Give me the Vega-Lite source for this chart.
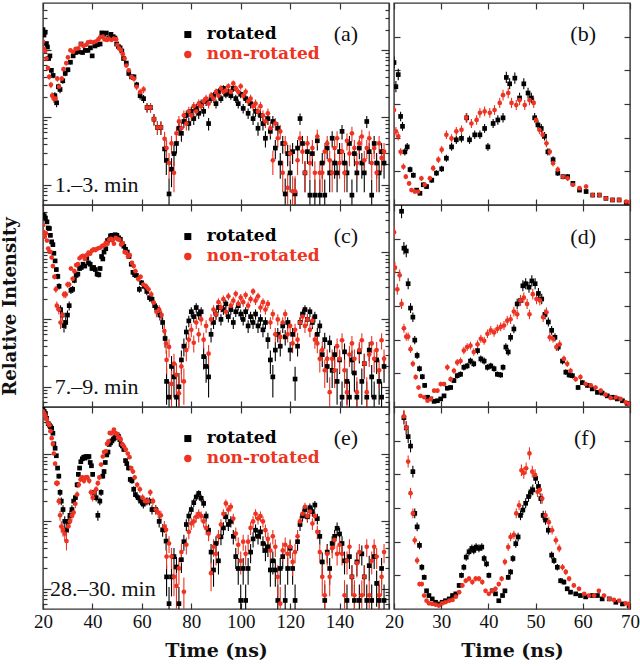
{
"$schema":"https://vega.github.io/schema/vega-lite/v6.json",
"padding":{"left":0,"top":1,"right":0,"bottom":0},
"background":"white",
"config":{
 "font":"Liberation Serif",
 "view":{"stroke":"#333","strokeWidth":1.4},
 "axis":{"domain":false,"grid":false,"tickColor":"#333","tickWidth":1.2,"labelFont":"Liberation Serif","labelFontSize":19,"labelColor":"#111","titleFont":"DejaVu Serif","titleFontWeight":"bold","titleFontSize":19,"titleColor":"#111","labelFlush":false,"labelOverlap":false}
},
"datasets":{"d":[
{"w":1,"s":"r","t":20,"v":201,"e":8.5},{"w":1,"s":"r","t":20.4,"v":167,"e":7.8},{"w":1,"s":"r","t":20.9,"v":184,"e":8.1},{"w":1,"s":"r","t":21.4,"v":125,"e":6.7},{"w":1,"s":"r","t":21.8,"v":111,"e":6.3},{"w":1,"s":"r","t":22.3,"v":75,"e":5.2},{"w":1,"s":"r","t":22.8,"v":82,"e":5.4},{"w":1,"s":"r","t":23.4,"v":50,"e":4.2},{"w":1,"s":"r","t":24.1,"v":42,"e":3.9},{"w":1,"s":"r","t":24.8,"v":21,"e":2.7},{"w":1,"s":"r","t":25.5,"v":16.5,"e":2.4},{"w":1,"s":"r","t":26.2,"v":28.5,"e":3.2},{"w":1,"s":"r","t":26.9,"v":26,"e":3.1},{"w":1,"s":"r","t":28,"v":35,"e":3.5},{"w":1,"s":"r","t":29,"v":45,"e":4},{"w":1,"s":"r","t":30.1,"v":51,"e":4.3},{"w":1,"s":"r","t":31.1,"v":66,"e":4.9},{"w":1,"s":"r","t":32.2,"v":82,"e":5.4},{"w":1,"s":"r","t":33.2,"v":92,"e":5.8},{"w":1,"s":"r","t":34.3,"v":94,"e":5.8},{"w":1,"s":"r","t":35.4,"v":123,"e":6.7},{"w":1,"s":"r","t":36,"v":92,"e":5.8},{"w":1,"s":"r","t":37.1,"v":99,"e":6},{"w":1,"s":"r","t":38.2,"v":99,"e":6},{"w":1,"s":"r","t":39.2,"v":108,"e":6.2},{"w":1,"s":"r","t":39.9,"v":82,"e":5.4},{"w":1,"s":"r","t":41,"v":115,"e":6.4},{"w":1,"s":"r","t":42,"v":120,"e":6.6},{"w":1,"s":"r","t":43.1,"v":123,"e":6.7},{"w":1,"s":"r","t":43.8,"v":180,"e":8},{"w":1,"s":"r","t":44.5,"v":171,"e":7.8},{"w":1,"s":"r","t":45.6,"v":179,"e":8},{"w":1,"s":"r","t":46.6,"v":151,"e":7.4},{"w":1,"s":"r","t":47.5,"v":171,"e":7.8},{"w":1,"s":"r","t":48.4,"v":158,"e":7.5},{"w":1,"s":"r","t":49.1,"v":151,"e":7.4},{"w":1,"s":"r","t":49.8,"v":123,"e":6.7},{"w":1,"s":"r","t":50.5,"v":113,"e":6.4},{"w":1,"s":"r","t":51.2,"v":108,"e":6.2},{"w":1,"s":"r","t":51.9,"v":97,"e":5.9},{"w":1,"s":"r","t":52.6,"v":75,"e":5.2},{"w":1,"s":"r","t":53.7,"v":64,"e":4.8},{"w":1,"s":"r","t":54.7,"v":45,"e":4},{"w":1,"s":"r","t":55.8,"v":40,"e":3.8},{"w":1,"s":"r","t":56.8,"v":40,"e":3.8},{"w":1,"s":"r","t":57.9,"v":30.5,"e":3.3},{"w":1,"s":"r","t":59.3,"v":21,"e":2.7},{"w":1,"s":"r","t":60.7,"v":19,"e":2.6},{"w":1,"s":"r","t":62.1,"v":14,"e":2.2},{"w":1,"s":"r","t":63.5,"v":14,"e":2.2},{"w":1,"s":"r","t":64.9,"v":9.4,"e":1.8},{"w":1,"s":"r","t":66.3,"v":7.1,"e":1.6},{"w":1,"s":"r","t":67.7,"v":7.1,"e":1.6},{"w":1,"s":"r","t":69.2,"v":3.4,"e":1.1},{"w":1,"s":"r","t":69.9,"v":2.3,"e":0.9},
{"w":1,"s":"r","t":71,"v":0.73,"e":0.51},{"w":1,"s":"r","t":72,"v":1.7,"e":0.78},{"w":1,"s":"r","t":73,"v":2.9,"e":1.02},{"w":1,"s":"r","t":74,"v":4.1,"e":1.21},{"w":1,"s":"r","t":75,"v":6.9,"e":1.58},{"w":1,"s":"r","t":76,"v":5.8,"e":1.44},{"w":1,"s":"r","t":77,"v":8.7,"e":1.77},{"w":1,"s":"r","t":78,"v":10.7,"e":1.96},{"w":1,"s":"r","t":79,"v":8.1,"e":1.71},{"w":1,"s":"r","t":80,"v":12.3,"e":2.1},{"w":1,"s":"r","t":81,"v":9.6,"e":1.86},{"w":1,"s":"r","t":82,"v":13.6,"e":2.21},{"w":1,"s":"r","t":83,"v":11.5,"e":2.03},{"w":1,"s":"r","t":84,"v":16,"e":2.4},{"w":1,"s":"r","t":85,"v":12.3,"e":2.1},{"w":1,"s":"r","t":86,"v":17.3,"e":2.5},{"w":1,"s":"r","t":87,"v":8.1,"e":1.71},{"w":1,"s":"r","t":88,"v":19,"e":2.62},{"w":1,"s":"r","t":89,"v":21,"e":2.75},{"w":1,"s":"r","t":90,"v":16,"e":2.4},{"w":1,"s":"r","t":91,"v":24,"e":2.94},{"w":1,"s":"r","t":92,"v":19,"e":2.62},{"w":1,"s":"r","t":93,"v":27,"e":3.12},{"w":1,"s":"r","t":94,"v":22,"e":2.81},{"w":1,"s":"r","t":95,"v":24,"e":2.94},{"w":1,"s":"r","t":96,"v":21,"e":2.75},{"w":1,"s":"r","t":97,"v":27,"e":3.12},{"w":1,"s":"r","t":98,"v":19,"e":2.62},{"w":1,"s":"r","t":99,"v":16,"e":2.4},{"w":1,"s":"r","t":100,"v":22,"e":2.81},{"w":1,"s":"r","t":101,"v":13.6,"e":2.21},{"w":1,"s":"r","t":102,"v":19,"e":2.62},{"w":1,"s":"r","t":103,"v":11.5,"e":2.03},{"w":1,"s":"r","t":104,"v":16,"e":2.4},{"w":1,"s":"r","t":105,"v":9.6,"e":1.86},{"w":1,"s":"r","t":106,"v":12.3,"e":2.1},{"w":1,"s":"r","t":107,"v":6.9,"e":1.58},{"w":1,"s":"r","t":108,"v":10.7,"e":1.96},{"w":1,"s":"r","t":109,"v":8.1,"e":1.71},{"w":1,"s":"r","t":110,"v":4.9,"e":1.33},{"w":1,"s":"r","t":111,"v":9.6,"e":1.86},{"w":1,"s":"r","t":112,"v":6.2,"e":1.49},{"w":1,"s":"r","t":113,"v":8.7,"e":1.77},{"w":1,"s":"r","t":114,"v":3.5,"e":1.12},{"w":1,"s":"r","t":115,"v":6.9,"e":1.58},{"w":1,"s":"r","t":116,"v":2.1,"e":0.87},{"w":1,"s":"r","t":117,"v":4.1,"e":1.21},{"w":1,"s":"r","t":118,"v":0.73,"e":0.51},{"w":1,"s":"r","t":119,"v":2.9,"e":1.02},{"w":1,"s":"r","t":120,"v":1.5,"e":0.73},{"w":1,"s":"r","t":121,"v":3.1,"e":1.06},{"w":1,"s":"r","t":122,"v":0.73,"e":0.51},{"w":1,"s":"r","t":123,"v":3.5,"e":1.12},{"w":1,"s":"r","t":124,"v":9.6,"e":1.86},{"w":1,"s":"r","t":125,"v":4.1,"e":1.21},{"w":1,"s":"r","t":126,"v":1.5,"e":0.73},{"w":1,"s":"r","t":127,"v":3.1,"e":1.06},{"w":1,"s":"r","t":128,"v":0.7,"e":0.5},{"w":1,"s":"r","t":129,"v":2.9,"e":1.02},{"w":1,"s":"r","t":130,"v":0.7,"e":0.5},{"w":1,"s":"r","t":131,"v":4.5,"e":1.27},{"w":1,"s":"r","t":132,"v":0.7,"e":0.5},{"w":1,"s":"r","t":133,"v":2.1,"e":0.87},{"w":1,"s":"r","t":134,"v":0.7,"e":0.5},{"w":1,"s":"r","t":135,"v":3.5,"e":1.12},{"w":1,"s":"r","t":136,"v":1.5,"e":0.73},{"w":1,"s":"r","t":137,"v":4.9,"e":1.33},{"w":1,"s":"r","t":138,"v":2.1,"e":0.87},{"w":1,"s":"r","t":139,"v":1.5,"e":0.73},{"w":1,"s":"r","t":140,"v":3.1,"e":1.06},{"w":1,"s":"r","t":141,"v":6.2,"e":1.49},{"w":1,"s":"r","t":142,"v":2.1,"e":0.87},{"w":1,"s":"r","t":143,"v":1.5,"e":0.73},{"w":1,"s":"r","t":144,"v":4.1,"e":1.21},{"w":1,"s":"r","t":145,"v":0.7,"e":0.5},{"w":1,"s":"r","t":146,"v":2.9,"e":1.02},{"w":1,"s":"r","t":147,"v":1.5,"e":0.73},{"w":1,"s":"r","t":148,"v":3.5,"e":1.12},{"w":1,"s":"r","t":149,"v":2.1,"e":0.87},{"w":1,"s":"r","t":150,"v":1.5,"e":0.73},{"w":1,"s":"r","t":151,"v":8.7,"e":1.77},{"w":1,"s":"r","t":152,"v":3.1,"e":1.06},{"w":1,"s":"r","t":153,"v":0.7,"e":0.5},{"w":1,"s":"r","t":154,"v":4.1,"e":1.21},{"w":1,"s":"r","t":155,"v":2.1,"e":0.87},{"w":1,"s":"r","t":156,"v":1.5,"e":0.73},{"w":1,"s":"r","t":157,"v":3.1,"e":1.06},{"w":1,"s":"r","t":158,"v":2.1,"e":0.87},
{"w":1,"s":"n","t":20,"v":134,"e":6.9},{"w":1,"s":"n","t":20.4,"v":104,"e":6.1},{"w":1,"s":"n","t":20.9,"v":97,"e":5.9},{"w":1,"s":"n","t":21.4,"v":75,"e":5.2},{"w":1,"s":"n","t":22,"v":54,"e":4.4},{"w":1,"s":"n","t":22.5,"v":40,"e":3.8},{"w":1,"s":"n","t":23.2,"v":30.5,"e":3.3},{"w":1,"s":"n","t":23.7,"v":21,"e":2.7},{"w":1,"s":"n","t":24.4,"v":19,"e":2.6},{"w":1,"s":"n","t":25.1,"v":19,"e":2.6},{"w":1,"s":"n","t":25.8,"v":37.6,"e":3.7},{"w":1,"s":"n","t":26.5,"v":28.5,"e":3.2},{"w":1,"s":"n","t":27.6,"v":37.6,"e":3.7},{"w":1,"s":"n","t":28.3,"v":52,"e":4.3},{"w":1,"s":"n","t":29.4,"v":64,"e":4.8},{"w":1,"s":"n","t":30.1,"v":78,"e":5.3},{"w":1,"s":"n","t":31.1,"v":99,"e":6},{"w":1,"s":"n","t":32.2,"v":94,"e":5.8},{"w":1,"s":"n","t":33.2,"v":104,"e":6.1},{"w":1,"s":"n","t":34.3,"v":106,"e":6.2},{"w":1,"s":"n","t":35.3,"v":123,"e":6.7},{"w":1,"s":"n","t":36.4,"v":115,"e":6.4},{"w":1,"s":"n","t":37.5,"v":120,"e":6.6},{"w":1,"s":"n","t":38.2,"v":130,"e":6.8},{"w":1,"s":"n","t":39.2,"v":132,"e":6.9},{"w":1,"s":"n","t":40.3,"v":130,"e":6.8},{"w":1,"s":"n","t":41.3,"v":134,"e":6.9},{"w":1,"s":"n","t":42.4,"v":144,"e":7.2},{"w":1,"s":"n","t":43.1,"v":155,"e":7.5},{"w":1,"s":"n","t":44.2,"v":158,"e":7.5},{"w":1,"s":"n","t":44.9,"v":144,"e":7.2},{"w":1,"s":"n","t":45.9,"v":141,"e":7.1},{"w":1,"s":"n","t":46.6,"v":148,"e":7.3},{"w":1,"s":"n","t":47.7,"v":141,"e":7.1},{"w":1,"s":"n","t":48.7,"v":148,"e":7.3},{"w":1,"s":"n","t":49.6,"v":144,"e":7.2},{"w":1,"s":"n","t":50.1,"v":120,"e":6.6},{"w":1,"s":"n","t":50.8,"v":106,"e":6.2},{"w":1,"s":"n","t":51.5,"v":99,"e":6},{"w":1,"s":"n","t":52.3,"v":87,"e":5.6},{"w":1,"s":"n","t":53,"v":75,"e":5.2},{"w":1,"s":"n","t":53.7,"v":59,"e":4.6},{"w":1,"s":"n","t":54.7,"v":50,"e":4.2},{"w":1,"s":"n","t":55.8,"v":40,"e":3.8},{"w":1,"s":"n","t":56.8,"v":37.6,"e":3.7},{"w":1,"s":"n","t":57.9,"v":28.5,"e":3.2},{"w":1,"s":"n","t":59.3,"v":23.7,"e":2.9},{"w":1,"s":"n","t":60.7,"v":26,"e":3.1},{"w":1,"s":"n","t":62.1,"v":14,"e":2.2},{"w":1,"s":"n","t":63.5,"v":14,"e":2.2},{"w":1,"s":"n","t":64.9,"v":9.4,"e":1.8},{"w":1,"s":"n","t":66.3,"v":7.1,"e":1.6},{"w":1,"s":"n","t":67.7,"v":7.1,"e":1.6},{"w":1,"s":"n","t":69.2,"v":4.8,"e":1.3},
{"w":1,"s":"n","t":70,"v":3.5,"e":1.12},{"w":1,"s":"n","t":71,"v":2.1,"e":0.87},{"w":1,"s":"n","t":72,"v":4.1,"e":1.21},{"w":1,"s":"n","t":73,"v":1.5,"e":0.73},{"w":1,"s":"n","t":74,"v":5.8,"e":1.44},{"w":1,"s":"n","t":75,"v":8.7,"e":1.77},{"w":1,"s":"n","t":76,"v":6.9,"e":1.58},{"w":1,"s":"n","t":77,"v":10.7,"e":1.96},{"w":1,"s":"n","t":78,"v":8.1,"e":1.71},{"w":1,"s":"n","t":79,"v":12.3,"e":2.1},{"w":1,"s":"n","t":80,"v":10.7,"e":1.96},{"w":1,"s":"n","t":81,"v":14.7,"e":2.3},{"w":1,"s":"n","t":82,"v":12.3,"e":2.1},{"w":1,"s":"n","t":83,"v":16,"e":2.4},{"w":1,"s":"n","t":84,"v":14.7,"e":2.3},{"w":1,"s":"n","t":85,"v":17.3,"e":2.5},{"w":1,"s":"n","t":86,"v":19,"e":2.62},{"w":1,"s":"n","t":87,"v":16,"e":2.4},{"w":1,"s":"n","t":88,"v":21,"e":2.75},{"w":1,"s":"n","t":89,"v":19,"e":2.62},{"w":1,"s":"n","t":90,"v":24,"e":2.94},{"w":1,"s":"n","t":91,"v":21,"e":2.75},{"w":1,"s":"n","t":92,"v":27,"e":3.12},{"w":1,"s":"n","t":93,"v":24,"e":2.94},{"w":1,"s":"n","t":94,"v":25,"e":3},{"w":1,"s":"n","t":95,"v":29,"e":3.23},{"w":1,"s":"n","t":96,"v":24,"e":2.94},{"w":1,"s":"n","t":97,"v":32,"e":3.39},{"w":1,"s":"n","t":98,"v":27,"e":3.12},{"w":1,"s":"n","t":99,"v":24,"e":2.94},{"w":1,"s":"n","t":100,"v":29,"e":3.23},{"w":1,"s":"n","t":101,"v":21,"e":2.75},{"w":1,"s":"n","t":102,"v":24,"e":2.94},{"w":1,"s":"n","t":103,"v":17.3,"e":2.5},{"w":1,"s":"n","t":104,"v":19,"e":2.62},{"w":1,"s":"n","t":105,"v":14.7,"e":2.3},{"w":1,"s":"n","t":106,"v":16,"e":2.4},{"w":1,"s":"n","t":107,"v":12.3,"e":2.1},{"w":1,"s":"n","t":108,"v":14.7,"e":2.3},{"w":1,"s":"n","t":109,"v":10.7,"e":1.96},{"w":1,"s":"n","t":110,"v":8.7,"e":1.77},{"w":1,"s":"n","t":111,"v":11.5,"e":2.03},{"w":1,"s":"n","t":112,"v":6.9,"e":1.58},{"w":1,"s":"n","t":113,"v":2.3,"e":0.91},{"w":1,"s":"n","t":114,"v":8.1,"e":1.71},{"w":1,"s":"n","t":115,"v":4.9,"e":1.33},{"w":1,"s":"n","t":116,"v":6.2,"e":1.49},{"w":1,"s":"n","t":117,"v":1.5,"e":0.73},{"w":1,"s":"n","t":118,"v":4.1,"e":1.21},{"w":1,"s":"n","t":119,"v":0.9,"e":0.57},{"w":1,"s":"n","t":120,"v":2.9,"e":1.02},{"w":1,"s":"n","t":121,"v":0.8,"e":0.54},{"w":1,"s":"n","t":122,"v":0.8,"e":0.54},{"w":1,"s":"n","t":123,"v":2.3,"e":0.91},{"w":1,"s":"n","t":124,"v":4.9,"e":1.33},{"w":1,"s":"n","t":125,"v":3.1,"e":1.06},{"w":1,"s":"n","t":126,"v":1.5,"e":0.73},{"w":1,"s":"n","t":127,"v":4.1,"e":1.21},{"w":1,"s":"n","t":128,"v":2.1,"e":0.87},{"w":1,"s":"n","t":129,"v":3.5,"e":1.12},{"w":1,"s":"n","t":130,"v":1.5,"e":0.73},{"w":1,"s":"n","t":131,"v":5.2,"e":1.37},{"w":1,"s":"n","t":132,"v":1.5,"e":0.73},{"w":1,"s":"n","t":133,"v":1.5,"e":0.73},{"w":1,"s":"n","t":134,"v":3.1,"e":1.06},{"w":1,"s":"n","t":135,"v":4.1,"e":1.21},{"w":1,"s":"n","t":136,"v":2.3,"e":0.91},{"w":1,"s":"n","t":137,"v":1.5,"e":0.73},{"w":1,"s":"n","t":138,"v":3.5,"e":1.12},{"w":1,"s":"n","t":139,"v":4.9,"e":1.33},{"w":1,"s":"n","t":140,"v":2.1,"e":0.87},{"w":1,"s":"n","t":141,"v":3.1,"e":1.06},{"w":1,"s":"n","t":142,"v":1.5,"e":0.73},{"w":1,"s":"n","t":143,"v":4.5,"e":1.27},{"w":1,"s":"n","t":144,"v":2.9,"e":1.02},{"w":1,"s":"n","t":145,"v":5.8,"e":1.44},{"w":1,"s":"n","t":146,"v":3.5,"e":1.12},{"w":1,"s":"n","t":147,"v":2.1,"e":0.87},{"w":1,"s":"n","t":148,"v":4.1,"e":1.21},{"w":1,"s":"n","t":149,"v":5.2,"e":1.37},{"w":1,"s":"n","t":150,"v":2.3,"e":0.91},{"w":1,"s":"n","t":151,"v":3.5,"e":1.12},{"w":1,"s":"n","t":152,"v":4.9,"e":1.33},{"w":1,"s":"n","t":153,"v":2.1,"e":0.87},{"w":1,"s":"n","t":154,"v":3.5,"e":1.12},{"w":1,"s":"n","t":155,"v":1.5,"e":0.73},{"w":1,"s":"n","t":156,"v":4.1,"e":1.21},{"w":1,"s":"n","t":157,"v":2.5,"e":0.95},{"w":1,"s":"n","t":158,"v":3.1,"e":1.06},
{"w":2,"s":"r","t":20,"v":360,"e":11.4},{"w":2,"s":"r","t":20.5,"v":345,"e":11.1},{"w":2,"s":"r","t":21,"v":320,"e":10.7},{"w":2,"s":"r","t":21.6,"v":281,"e":10},{"w":2,"s":"r","t":22.1,"v":228,"e":9},{"w":2,"s":"r","t":22.6,"v":224,"e":9},{"w":2,"s":"r","t":23,"v":177,"e":8},{"w":2,"s":"r","t":23.5,"v":142,"e":7.1},{"w":2,"s":"r","t":24,"v":129,"e":6.8},{"w":2,"s":"r","t":24.4,"v":96,"e":5.9},{"w":2,"s":"r","t":24.9,"v":74,"e":5.2},{"w":2,"s":"r","t":25.4,"v":55,"e":4.4},{"w":2,"s":"r","t":26,"v":43.5,"e":4},{"w":2,"s":"r","t":26.5,"v":31,"e":3.3},{"w":2,"s":"r","t":27.1,"v":14,"e":2.2},{"w":2,"s":"r","t":27.8,"v":11.6,"e":2},{"w":2,"s":"r","t":28.5,"v":8.1,"e":1.7},{"w":2,"s":"r","t":29.2,"v":9,"e":1.8},{"w":2,"s":"r","t":29.9,"v":11.6,"e":2},{"w":2,"s":"r","t":30.6,"v":16,"e":2.4},{"w":2,"s":"r","t":31.3,"v":27,"e":3.1},{"w":2,"s":"r","t":32,"v":28,"e":3.2},{"w":2,"s":"r","t":32.7,"v":38,"e":3.7},{"w":2,"s":"r","t":33.4,"v":45,"e":4},{"w":2,"s":"r","t":34.1,"v":47,"e":4.1},{"w":2,"s":"r","t":34.8,"v":57,"e":4.5},{"w":2,"s":"r","t":35.5,"v":59,"e":4.6},{"w":2,"s":"r","t":36.2,"v":66,"e":4.9},{"w":2,"s":"r","t":36.9,"v":62,"e":4.7},{"w":2,"s":"r","t":37.7,"v":81,"e":5.4},{"w":2,"s":"r","t":38.4,"v":69,"e":5},{"w":2,"s":"r","t":39.1,"v":66,"e":4.9},{"w":2,"s":"r","t":39.8,"v":57,"e":4.5},{"w":2,"s":"r","t":40.5,"v":59,"e":4.6},{"w":2,"s":"r","t":41.2,"v":55,"e":4.4},{"w":2,"s":"r","t":41.9,"v":47,"e":4.1},{"w":2,"s":"r","t":42.6,"v":46,"e":4.1},{"w":2,"s":"r","t":43.1,"v":57,"e":4.5},{"w":2,"s":"r","t":43.7,"v":86,"e":5.6},{"w":2,"s":"r","t":44.2,"v":79,"e":5.3},{"w":2,"s":"r","t":44.7,"v":100,"e":6},{"w":2,"s":"r","t":45.4,"v":112,"e":6.3},{"w":2,"s":"r","t":46.1,"v":148,"e":7.3},{"w":2,"s":"r","t":46.8,"v":153,"e":7.4},{"w":2,"s":"r","t":47.3,"v":174,"e":7.9},{"w":2,"s":"r","t":47.9,"v":177,"e":8},{"w":2,"s":"r","t":48.6,"v":172,"e":7.9},{"w":2,"s":"r","t":49.2,"v":181,"e":8.1},{"w":2,"s":"r","t":49.9,"v":177,"e":8},{"w":2,"s":"r","t":50.6,"v":163,"e":7.7},{"w":2,"s":"r","t":51.3,"v":155,"e":7.5},{"w":2,"s":"r","t":52,"v":133,"e":6.9},{"w":2,"s":"r","t":52.7,"v":122,"e":6.6},{"w":2,"s":"r","t":53.4,"v":110,"e":6.3},{"w":2,"s":"r","t":54.1,"v":100,"e":6},{"w":2,"s":"r","t":54.8,"v":86,"e":5.6},{"w":2,"s":"r","t":55.7,"v":66,"e":4.9},{"w":2,"s":"r","t":56.4,"v":50,"e":4.2},{"w":2,"s":"r","t":57.1,"v":46,"e":4.1},{"w":2,"s":"r","t":57.8,"v":45,"e":4},{"w":2,"s":"r","t":59,"v":28,"e":3.2},{"w":2,"s":"r","t":59.9,"v":35,"e":3.5},{"w":2,"s":"r","t":61,"v":31,"e":3.3},{"w":2,"s":"r","t":62,"v":26,"e":3.1},{"w":2,"s":"r","t":63.1,"v":21,"e":2.7},{"w":2,"s":"r","t":64.1,"v":20,"e":2.7},{"w":2,"s":"r","t":65.2,"v":16,"e":2.4},{"w":2,"s":"r","t":66.3,"v":14,"e":2.2},{"w":2,"s":"r","t":67.3,"v":11.6,"e":2},{"w":2,"s":"r","t":68.4,"v":9,"e":1.8},{"w":2,"s":"r","t":69.4,"v":5.2,"e":1.4},
{"w":2,"s":"r","t":70,"v":1.2,"e":0.66},{"w":2,"s":"r","t":71,"v":0.7,"e":0.5},{"w":2,"s":"r","t":72,"v":2,"e":0.85},{"w":2,"s":"r","t":73,"v":1.4,"e":0.71},{"w":2,"s":"r","t":74,"v":0.7,"e":0.5},{"w":2,"s":"r","t":75,"v":1,"e":0.6},{"w":2,"s":"r","t":76,"v":2.5,"e":0.95},{"w":2,"s":"r","t":77,"v":4,"e":1.2},{"w":2,"s":"r","t":78,"v":6.5,"e":1.53},{"w":2,"s":"r","t":79,"v":9.5,"e":1.85},{"w":2,"s":"r","t":80,"v":13,"e":2.16},{"w":2,"s":"r","t":81,"v":11,"e":1.99},{"w":2,"s":"r","t":82,"v":15,"e":2.32},{"w":2,"s":"r","t":83,"v":12,"e":2.08},{"w":2,"s":"r","t":84,"v":13,"e":2.16},{"w":2,"s":"r","t":85,"v":2.8,"e":1},{"w":2,"s":"r","t":86,"v":2,"e":0.85},{"w":2,"s":"r","t":87,"v":1.4,"e":0.71},{"w":2,"s":"r","t":88,"v":6,"e":1.47},{"w":2,"s":"r","t":89,"v":9,"e":1.8},{"w":2,"s":"r","t":90,"v":12,"e":2.08},{"w":2,"s":"r","t":91,"v":15,"e":2.32},{"w":2,"s":"r","t":92,"v":10,"e":1.9},{"w":2,"s":"r","t":93,"v":14,"e":2.24},{"w":2,"s":"r","t":94,"v":17,"e":2.47},{"w":2,"s":"r","t":95,"v":11,"e":1.99},{"w":2,"s":"r","t":96,"v":14,"e":2.24},{"w":2,"s":"r","t":97,"v":9,"e":1.8},{"w":2,"s":"r","t":98,"v":13,"e":2.16},{"w":2,"s":"r","t":99,"v":16,"e":2.4},{"w":2,"s":"r","t":100,"v":12,"e":2.08},{"w":2,"s":"r","t":101,"v":10,"e":1.9},{"w":2,"s":"r","t":102,"v":13,"e":2.16},{"w":2,"s":"r","t":103,"v":8,"e":1.7},{"w":2,"s":"r","t":104,"v":11,"e":1.99},{"w":2,"s":"r","t":105,"v":9,"e":1.8},{"w":2,"s":"r","t":106,"v":12,"e":2.08},{"w":2,"s":"r","t":107,"v":8,"e":1.7},{"w":2,"s":"r","t":108,"v":10,"e":1.9},{"w":2,"s":"r","t":109,"v":7,"e":1.59},{"w":2,"s":"r","t":110,"v":9,"e":1.8},{"w":2,"s":"r","t":111,"v":5,"e":1.34},{"w":2,"s":"r","t":112,"v":2.5,"e":0.95},{"w":2,"s":"r","t":113,"v":1.4,"e":0.71},{"w":2,"s":"r","t":114,"v":3.5,"e":1.12},{"w":2,"s":"r","t":115,"v":6,"e":1.47},{"w":2,"s":"r","t":116,"v":4,"e":1.2},{"w":2,"s":"r","t":117,"v":8,"e":1.7},{"w":2,"s":"r","t":118,"v":5.5,"e":1.41},{"w":2,"s":"r","t":119,"v":9,"e":1.8},{"w":2,"s":"r","t":120,"v":3.5,"e":1.12},{"w":2,"s":"r","t":121,"v":6,"e":1.47},{"w":2,"s":"r","t":122,"v":1.3,"e":0.68},{"w":2,"s":"r","t":123,"v":4,"e":1.2},{"w":2,"s":"r","t":124,"v":9,"e":1.8},{"w":2,"s":"r","t":125,"v":12,"e":2.08},{"w":2,"s":"r","t":126,"v":14,"e":2.24},{"w":2,"s":"r","t":127,"v":10,"e":1.9},{"w":2,"s":"r","t":128,"v":13,"e":2.16},{"w":2,"s":"r","t":129,"v":9,"e":1.8},{"w":2,"s":"r","t":130,"v":11,"e":1.99},{"w":2,"s":"r","t":131,"v":6,"e":1.47},{"w":2,"s":"r","t":132,"v":8,"e":1.7},{"w":2,"s":"r","t":133,"v":3,"e":1.04},{"w":2,"s":"r","t":134,"v":5,"e":1.34},{"w":2,"s":"r","t":135,"v":2,"e":0.85},{"w":2,"s":"r","t":136,"v":4.5,"e":1.27},{"w":2,"s":"r","t":137,"v":1.75,"e":0.79},{"w":2,"s":"r","t":138,"v":3,"e":1.04},{"w":2,"s":"r","t":139,"v":1.2,"e":0.66},{"w":2,"s":"r","t":140,"v":2.5,"e":0.95},{"w":2,"s":"r","t":141,"v":0.7,"e":0.5},{"w":2,"s":"r","t":142,"v":3.3,"e":1.09},{"w":2,"s":"r","t":143,"v":1.2,"e":0.66},{"w":2,"s":"r","t":144,"v":0.7,"e":0.5},{"w":2,"s":"r","t":145,"v":2.5,"e":0.95},{"w":2,"s":"r","t":146,"v":1.6,"e":0.76},{"w":2,"s":"r","t":147,"v":0.7,"e":0.5},{"w":2,"s":"r","t":148,"v":3.3,"e":1.09},{"w":2,"s":"r","t":149,"v":1.2,"e":0.66},{"w":2,"s":"r","t":150,"v":2.2,"e":0.89},{"w":2,"s":"r","t":151,"v":0.7,"e":0.5},{"w":2,"s":"r","t":152,"v":3.5,"e":1.12},{"w":2,"s":"r","t":153,"v":1.4,"e":0.71},{"w":2,"s":"r","t":154,"v":0.7,"e":0.5},{"w":2,"s":"r","t":155,"v":2.5,"e":0.95},{"w":2,"s":"r","t":156,"v":1.2,"e":0.66},{"w":2,"s":"r","t":157,"v":0.7,"e":0.5},{"w":2,"s":"r","t":158,"v":2,"e":0.85},
{"w":2,"s":"n","t":20,"v":251,"e":9.5},{"w":2,"s":"n","t":20.2,"v":200,"e":8.5},{"w":2,"s":"n","t":20.7,"v":169,"e":7.8},{"w":2,"s":"n","t":21.2,"v":189,"e":8.3},{"w":2,"s":"n","t":21.6,"v":148,"e":7.3},{"w":2,"s":"n","t":22.1,"v":113,"e":6.4},{"w":2,"s":"n","t":22.6,"v":101,"e":6},{"w":2,"s":"n","t":23,"v":101,"e":6},{"w":2,"s":"n","t":23.5,"v":83,"e":5.5},{"w":2,"s":"n","t":24,"v":62,"e":4.7},{"w":2,"s":"n","t":24.6,"v":43,"e":3.9},{"w":2,"s":"n","t":25.2,"v":28,"e":3.2},{"w":2,"s":"n","t":25.6,"v":16,"e":2.4},{"w":2,"s":"n","t":26.4,"v":14,"e":2.2},{"w":2,"s":"n","t":27.1,"v":9,"e":1.8},{"w":2,"s":"n","t":27.8,"v":11.6,"e":2},{"w":2,"s":"n","t":28.5,"v":23.5,"e":2.9},{"w":2,"s":"n","t":29.2,"v":23.5,"e":2.9},{"w":2,"s":"n","t":29.9,"v":33,"e":3.4},{"w":2,"s":"n","t":30.6,"v":33,"e":3.4},{"w":2,"s":"n","t":31.3,"v":57,"e":4.5},{"w":2,"s":"n","t":32,"v":40,"e":3.8},{"w":2,"s":"n","t":32.7,"v":52,"e":4.3},{"w":2,"s":"n","t":33.4,"v":64,"e":4.8},{"w":2,"s":"n","t":34.1,"v":66,"e":4.9},{"w":2,"s":"n","t":34.8,"v":81,"e":5.4},{"w":2,"s":"n","t":35.5,"v":86,"e":5.6},{"w":2,"s":"n","t":36.2,"v":88,"e":5.6},{"w":2,"s":"n","t":36.9,"v":79,"e":5.3},{"w":2,"s":"n","t":37.7,"v":90,"e":5.7},{"w":2,"s":"n","t":38.4,"v":98,"e":5.9},{"w":2,"s":"n","t":39.1,"v":95,"e":5.8},{"w":2,"s":"n","t":39.8,"v":105,"e":6.1},{"w":2,"s":"n","t":40.5,"v":110,"e":6.3},{"w":2,"s":"n","t":41.2,"v":107,"e":6.2},{"w":2,"s":"n","t":41.9,"v":112,"e":6.3},{"w":2,"s":"n","t":42.6,"v":115,"e":6.4},{"w":2,"s":"n","t":43.3,"v":117,"e":6.5},{"w":2,"s":"n","t":44,"v":124,"e":6.7},{"w":2,"s":"n","t":44.7,"v":126,"e":6.7},{"w":2,"s":"n","t":45.4,"v":137,"e":7},{"w":2,"s":"n","t":46.1,"v":133,"e":6.9},{"w":2,"s":"n","t":46.8,"v":153,"e":7.4},{"w":2,"s":"n","t":47.5,"v":157,"e":7.5},{"w":2,"s":"n","t":48.2,"v":148,"e":7.3},{"w":2,"s":"n","t":48.7,"v":133,"e":6.9},{"w":2,"s":"n","t":49.4,"v":162,"e":7.6},{"w":2,"s":"n","t":50.2,"v":155,"e":7.5},{"w":2,"s":"n","t":50.9,"v":153,"e":7.4},{"w":2,"s":"n","t":51.6,"v":129,"e":6.8},{"w":2,"s":"n","t":52.3,"v":136,"e":7},{"w":2,"s":"n","t":53,"v":100,"e":6},{"w":2,"s":"n","t":53.7,"v":98,"e":5.9},{"w":2,"s":"n","t":54.4,"v":86,"e":5.6},{"w":2,"s":"n","t":55.1,"v":90,"e":5.7},{"w":2,"s":"n","t":56,"v":69,"e":5},{"w":2,"s":"n","t":56.7,"v":62,"e":4.7},{"w":2,"s":"n","t":57.4,"v":52,"e":4.3},{"w":2,"s":"n","t":58.5,"v":40,"e":3.8},{"w":2,"s":"n","t":59.5,"v":43,"e":3.9},{"w":2,"s":"n","t":60.6,"v":33,"e":3.4},{"w":2,"s":"n","t":61.7,"v":31,"e":3.3},{"w":2,"s":"n","t":62.7,"v":28,"e":3.2},{"w":2,"s":"n","t":63.8,"v":23.5,"e":2.9},{"w":2,"s":"n","t":64.8,"v":17.7,"e":2.5},{"w":2,"s":"n","t":65.9,"v":13,"e":2.2},{"w":2,"s":"n","t":67,"v":14,"e":2.2},{"w":2,"s":"n","t":68,"v":11.6,"e":2},{"w":2,"s":"n","t":69.1,"v":6.7,"e":1.6},{"w":2,"s":"n","t":69.8,"v":4.4,"e":1.3},
{"w":2,"s":"n","t":70,"v":2.5,"e":0.95},{"w":2,"s":"n","t":71,"v":3.9,"e":1.18},{"w":2,"s":"n","t":72,"v":1.1,"e":0.63},{"w":2,"s":"n","t":73,"v":2.2,"e":0.89},{"w":2,"s":"n","t":74,"v":1.5,"e":0.73},{"w":2,"s":"n","t":75,"v":0.8,"e":0.54},{"w":2,"s":"n","t":76,"v":2,"e":0.85},{"w":2,"s":"n","t":77,"v":1.2,"e":0.66},{"w":2,"s":"n","t":78,"v":3.5,"e":1.12},{"w":2,"s":"n","t":79,"v":5,"e":1.34},{"w":2,"s":"n","t":80,"v":7,"e":1.59},{"w":2,"s":"n","t":81,"v":4.5,"e":1.27},{"w":2,"s":"n","t":82,"v":9,"e":1.8},{"w":2,"s":"n","t":83,"v":6,"e":1.47},{"w":2,"s":"n","t":84,"v":10,"e":1.9},{"w":2,"s":"n","t":85,"v":5,"e":1.34},{"w":2,"s":"n","t":86,"v":8,"e":1.7},{"w":2,"s":"n","t":87,"v":3.1,"e":1.06},{"w":2,"s":"n","t":88,"v":10,"e":1.9},{"w":2,"s":"n","t":89,"v":14,"e":2.24},{"w":2,"s":"n","t":90,"v":12,"e":2.08},{"w":2,"s":"n","t":91,"v":18,"e":2.55},{"w":2,"s":"n","t":92,"v":15,"e":2.32},{"w":2,"s":"n","t":93,"v":20,"e":2.68},{"w":2,"s":"n","t":94,"v":13,"e":2.16},{"w":2,"s":"n","t":95,"v":22,"e":2.81},{"w":2,"s":"n","t":96,"v":16,"e":2.4},{"w":2,"s":"n","t":97,"v":19,"e":2.62},{"w":2,"s":"n","t":98,"v":24,"e":2.94},{"w":2,"s":"n","t":99,"v":17,"e":2.47},{"w":2,"s":"n","t":100,"v":21,"e":2.75},{"w":2,"s":"n","t":101,"v":18,"e":2.55},{"w":2,"s":"n","t":102,"v":23,"e":2.88},{"w":2,"s":"n","t":103,"v":16,"e":2.4},{"w":2,"s":"n","t":104,"v":20,"e":2.68},{"w":2,"s":"n","t":105,"v":26,"e":3.06},{"w":2,"s":"n","t":106,"v":19,"e":2.62},{"w":2,"s":"n","t":107,"v":22,"e":2.81},{"w":2,"s":"n","t":108,"v":15,"e":2.32},{"w":2,"s":"n","t":109,"v":18,"e":2.55},{"w":2,"s":"n","t":110,"v":14,"e":2.24},{"w":2,"s":"n","t":111,"v":17,"e":2.47},{"w":2,"s":"n","t":112,"v":9,"e":1.8},{"w":2,"s":"n","t":113,"v":12,"e":2.08},{"w":2,"s":"n","t":114,"v":6,"e":1.47},{"w":2,"s":"n","t":115,"v":10,"e":1.9},{"w":2,"s":"n","t":116,"v":5.5,"e":1.41},{"w":2,"s":"n","t":117,"v":9,"e":1.8},{"w":2,"s":"n","t":118,"v":12,"e":2.08},{"w":2,"s":"n","t":119,"v":6,"e":1.47},{"w":2,"s":"n","t":120,"v":8,"e":1.7},{"w":2,"s":"n","t":121,"v":4.4,"e":1.26},{"w":2,"s":"n","t":122,"v":7,"e":1.59},{"w":2,"s":"n","t":123,"v":5,"e":1.34},{"w":2,"s":"n","t":124,"v":9,"e":1.8},{"w":2,"s":"n","t":125,"v":11,"e":1.99},{"w":2,"s":"n","t":126,"v":8,"e":1.7},{"w":2,"s":"n","t":127,"v":10,"e":1.9},{"w":2,"s":"n","t":128,"v":7,"e":1.59},{"w":2,"s":"n","t":129,"v":9.5,"e":1.85},{"w":2,"s":"n","t":130,"v":5,"e":1.34},{"w":2,"s":"n","t":131,"v":4.4,"e":1.26},{"w":2,"s":"n","t":132,"v":2.6,"e":0.97},{"w":2,"s":"n","t":133,"v":3.5,"e":1.12},{"w":2,"s":"n","t":134,"v":1.75,"e":0.79},{"w":2,"s":"n","t":135,"v":2.6,"e":0.97},{"w":2,"s":"n","t":136,"v":0.83,"e":0.55},{"w":2,"s":"n","t":137,"v":2.6,"e":0.97},{"w":2,"s":"n","t":138,"v":1.75,"e":0.79},{"w":2,"s":"n","t":139,"v":4,"e":1.2},{"w":2,"s":"n","t":140,"v":2.6,"e":0.97},{"w":2,"s":"n","t":141,"v":4.9,"e":1.33},{"w":2,"s":"n","t":142,"v":1.75,"e":0.79},{"w":2,"s":"n","t":143,"v":0.83,"e":0.55},{"w":2,"s":"n","t":144,"v":3,"e":1.04},{"w":2,"s":"n","t":145,"v":4.4,"e":1.26},{"w":2,"s":"n","t":146,"v":2.6,"e":0.97},{"w":2,"s":"n","t":147,"v":0.83,"e":0.55},{"w":2,"s":"n","t":148,"v":3.5,"e":1.12},{"w":2,"s":"n","t":149,"v":4.9,"e":1.33},{"w":2,"s":"n","t":150,"v":2.2,"e":0.89},{"w":2,"s":"n","t":151,"v":0.83,"e":0.55},{"w":2,"s":"n","t":152,"v":3,"e":1.04},{"w":2,"s":"n","t":153,"v":4.4,"e":1.26},{"w":2,"s":"n","t":154,"v":2.6,"e":0.97},{"w":2,"s":"n","t":155,"v":3.5,"e":1.12},{"w":2,"s":"n","t":156,"v":1.75,"e":0.79},{"w":2,"s":"n","t":157,"v":4.9,"e":1.33},{"w":2,"s":"n","t":158,"v":2.6,"e":0.97},
{"w":3,"s":"r","t":20,"v":460,"e":12.9},{"w":3,"s":"r","t":20.5,"v":430,"e":12.4},{"w":3,"s":"r","t":21,"v":400,"e":12},{"w":3,"s":"r","t":21.5,"v":340,"e":11},{"w":3,"s":"r","t":22.1,"v":284,"e":10.1},{"w":3,"s":"r","t":22.6,"v":269,"e":9.8},{"w":3,"s":"r","t":23,"v":256,"e":9.6},{"w":3,"s":"r","t":23.5,"v":242,"e":9.3},{"w":3,"s":"r","t":24,"v":204,"e":8.6},{"w":3,"s":"r","t":24.4,"v":142,"e":7.1},{"w":3,"s":"r","t":24.9,"v":122,"e":6.6},{"w":3,"s":"r","t":25.4,"v":94.5,"e":5.8},{"w":3,"s":"r","t":25.9,"v":62,"e":4.7},{"w":3,"s":"r","t":26.4,"v":47,"e":4.1},{"w":3,"s":"r","t":26.9,"v":27,"e":3.1},{"w":3,"s":"r","t":27.4,"v":20,"e":2.7},{"w":3,"s":"r","t":28.1,"v":15,"e":2.3},{"w":3,"s":"r","t":28.8,"v":10,"e":1.9},{"w":3,"s":"r","t":29.5,"v":7.5,"e":1.6},{"w":3,"s":"r","t":30.2,"v":10,"e":1.9},{"w":3,"s":"r","t":30.9,"v":12.3,"e":2.1},{"w":3,"s":"r","t":31.7,"v":15,"e":2.3},{"w":3,"s":"r","t":32.4,"v":20,"e":2.7},{"w":3,"s":"r","t":33.1,"v":22.5,"e":2.8},{"w":3,"s":"r","t":33.8,"v":35,"e":3.5},{"w":3,"s":"r","t":34.3,"v":50,"e":4.2},{"w":3,"s":"r","t":34.8,"v":62,"e":4.7},{"w":3,"s":"r","t":35.3,"v":77,"e":5.3},{"w":3,"s":"r","t":35.9,"v":85,"e":5.5},{"w":3,"s":"r","t":36.5,"v":90,"e":5.7},{"w":3,"s":"r","t":36.9,"v":87,"e":5.6},{"w":3,"s":"r","t":37.4,"v":92,"e":5.8},{"w":3,"s":"r","t":38,"v":90,"e":5.7},{"w":3,"s":"r","t":38.6,"v":92,"e":5.8},{"w":3,"s":"r","t":39.1,"v":75,"e":5.2},{"w":3,"s":"r","t":39.6,"v":67,"e":4.9},{"w":3,"s":"r","t":40.1,"v":50,"e":4.2},{"w":3,"s":"r","t":40.8,"v":27,"e":3.1},{"w":3,"s":"r","t":41.5,"v":22.5,"e":2.8},{"w":3,"s":"r","t":42.2,"v":12.3,"e":2.1},{"w":3,"s":"r","t":43,"v":20,"e":2.7},{"w":3,"s":"r","t":43.5,"v":27,"e":3.1},{"w":3,"s":"r","t":44.2,"v":47,"e":4.1},{"w":3,"s":"r","t":44.7,"v":55,"e":4.4},{"w":3,"s":"r","t":45.2,"v":75,"e":5.2},{"w":3,"s":"r","t":45.8,"v":97,"e":5.9},{"w":3,"s":"r","t":46.3,"v":107,"e":6.2},{"w":3,"s":"r","t":46.8,"v":139,"e":7.1},{"w":3,"s":"r","t":47.3,"v":147,"e":7.3},{"w":3,"s":"r","t":47.9,"v":157,"e":7.5},{"w":3,"s":"r","t":48.5,"v":167,"e":7.8},{"w":3,"s":"r","t":49,"v":174,"e":7.9},{"w":3,"s":"r","t":49.4,"v":177,"e":8},{"w":3,"s":"r","t":50,"v":194,"e":8.4},{"w":3,"s":"r","t":50.6,"v":182,"e":8.1},{"w":3,"s":"r","t":51.1,"v":164,"e":7.7},{"w":3,"s":"r","t":51.6,"v":139,"e":7.1},{"w":3,"s":"r","t":52.1,"v":132,"e":6.9},{"w":3,"s":"r","t":52.7,"v":117,"e":6.5},{"w":3,"s":"r","t":53.4,"v":80,"e":5.4},{"w":3,"s":"r","t":53.9,"v":72,"e":5.1},{"w":3,"s":"r","t":54.6,"v":62,"e":4.7},{"w":3,"s":"r","t":55.3,"v":42,"e":3.9},{"w":3,"s":"r","t":56,"v":40,"e":3.8},{"w":3,"s":"r","t":56.7,"v":30,"e":3.3},{"w":3,"s":"r","t":57.4,"v":25,"e":3},{"w":3,"s":"r","t":58.5,"v":22.5,"e":2.8},{"w":3,"s":"r","t":59.5,"v":20,"e":2.7},{"w":3,"s":"r","t":60.6,"v":18,"e":2.5},{"w":3,"s":"r","t":62,"v":20,"e":2.7},{"w":3,"s":"r","t":63.1,"v":20,"e":2.7},{"w":3,"s":"r","t":64.1,"v":15,"e":2.3},{"w":3,"s":"r","t":65.6,"v":15,"e":2.3},{"w":3,"s":"r","t":67,"v":10,"e":1.9},{"w":3,"s":"r","t":68.4,"v":7.5,"e":1.6},{"w":3,"s":"r","t":69.8,"v":5.1,"e":1.4},
{"w":3,"s":"r","t":70,"v":1.5,"e":0.73},{"w":3,"s":"r","t":71,"v":0.6,"e":0.46},{"w":3,"s":"r","t":72,"v":1.5,"e":0.73},{"w":3,"s":"r","t":73,"v":3,"e":1.04},{"w":3,"s":"r","t":74,"v":2.1,"e":0.87},{"w":3,"s":"r","t":75,"v":0.6,"e":0.46},{"w":3,"s":"r","t":76,"v":2.7,"e":0.99},{"w":3,"s":"r","t":77,"v":5,"e":1.34},{"w":3,"s":"r","t":78,"v":9,"e":1.8},{"w":3,"s":"r","t":79,"v":12,"e":2.08},{"w":3,"s":"r","t":80,"v":15,"e":2.32},{"w":3,"s":"r","t":81,"v":19,"e":2.62},{"w":3,"s":"r","t":82,"v":23,"e":2.88},{"w":3,"s":"r","t":83,"v":26,"e":3.06},{"w":3,"s":"r","t":84,"v":22,"e":2.81},{"w":3,"s":"r","t":85,"v":18.5,"e":2.58},{"w":3,"s":"r","t":86,"v":12,"e":2.08},{"w":3,"s":"r","t":87,"v":7.4,"e":1.63},{"w":3,"s":"r","t":88,"v":3.5,"e":1.12},{"w":3,"s":"r","t":89,"v":1.9,"e":0.83},{"w":3,"s":"r","t":90,"v":4.7,"e":1.3},{"w":3,"s":"r","t":91,"v":2.6,"e":0.97},{"w":3,"s":"r","t":92,"v":5.9,"e":1.46},{"w":3,"s":"r","t":93,"v":8,"e":1.7},{"w":3,"s":"r","t":94,"v":11.7,"e":2.05},{"w":3,"s":"r","t":95,"v":9,"e":1.8},{"w":3,"s":"r","t":96,"v":10,"e":1.9},{"w":3,"s":"r","t":97,"v":6,"e":1.47},{"w":3,"s":"r","t":98,"v":3,"e":1.04},{"w":3,"s":"r","t":99,"v":2,"e":0.85},{"w":3,"s":"r","t":100,"v":0.67,"e":0.49},{"w":3,"s":"r","t":101,"v":2,"e":0.85},{"w":3,"s":"r","t":102,"v":0.67,"e":0.49},{"w":3,"s":"r","t":103,"v":2,"e":0.85},{"w":3,"s":"r","t":104,"v":3.5,"e":1.12},{"w":3,"s":"r","t":105,"v":5.5,"e":1.41},{"w":3,"s":"r","t":106,"v":7.4,"e":1.63},{"w":3,"s":"r","t":107,"v":6,"e":1.47},{"w":3,"s":"r","t":108,"v":7,"e":1.59},{"w":3,"s":"r","t":109,"v":4.7,"e":1.3},{"w":3,"s":"r","t":110,"v":3.7,"e":1.15},{"w":3,"s":"r","t":111,"v":4.2,"e":1.23},{"w":3,"s":"r","t":112,"v":1.9,"e":0.83},{"w":3,"s":"r","t":113,"v":2.6,"e":0.97},{"w":3,"s":"r","t":114,"v":1.9,"e":0.83},{"w":3,"s":"r","t":115,"v":0.67,"e":0.49},{"w":3,"s":"r","t":116,"v":2,"e":0.85},{"w":3,"s":"r","t":117,"v":3,"e":1.04},{"w":3,"s":"r","t":118,"v":0.67,"e":0.49},{"w":3,"s":"r","t":119,"v":2,"e":0.85},{"w":3,"s":"r","t":120,"v":4,"e":1.2},{"w":3,"s":"r","t":121,"v":2,"e":0.85},{"w":3,"s":"r","t":122,"v":0.67,"e":0.49},{"w":3,"s":"r","t":123,"v":5,"e":1.34},{"w":3,"s":"r","t":124,"v":9,"e":1.8},{"w":3,"s":"r","t":125,"v":12,"e":2.08},{"w":3,"s":"r","t":126,"v":15,"e":2.32},{"w":3,"s":"r","t":127,"v":11.7,"e":2.05},{"w":3,"s":"r","t":128,"v":16,"e":2.4},{"w":3,"s":"r","t":129,"v":14,"e":2.24},{"w":3,"s":"r","t":130,"v":17.5,"e":2.51},{"w":3,"s":"r","t":131,"v":11,"e":1.99},{"w":3,"s":"r","t":132,"v":6,"e":1.47},{"w":3,"s":"r","t":133,"v":2.5,"e":0.95},{"w":3,"s":"r","t":134,"v":0.67,"e":0.49},{"w":3,"s":"r","t":135,"v":3.5,"e":1.12},{"w":3,"s":"r","t":136,"v":2,"e":0.85},{"w":3,"s":"r","t":137,"v":4.7,"e":1.3},{"w":3,"s":"r","t":138,"v":6,"e":1.47},{"w":3,"s":"r","t":139,"v":7.9,"e":1.69},{"w":3,"s":"r","t":140,"v":6.5,"e":1.53},{"w":3,"s":"r","t":141,"v":4.7,"e":1.3},{"w":3,"s":"r","t":142,"v":2.6,"e":0.97},{"w":3,"s":"r","t":143,"v":0.67,"e":0.49},{"w":3,"s":"r","t":144,"v":3,"e":1.04},{"w":3,"s":"r","t":145,"v":1.5,"e":0.73},{"w":3,"s":"r","t":146,"v":0.67,"e":0.49},{"w":3,"s":"r","t":147,"v":2.5,"e":0.95},{"w":3,"s":"r","t":148,"v":0.67,"e":0.49},{"w":3,"s":"r","t":149,"v":3.3,"e":1.09},{"w":3,"s":"r","t":150,"v":1.5,"e":0.73},{"w":3,"s":"r","t":151,"v":0.67,"e":0.49},{"w":3,"s":"r","t":152,"v":2.2,"e":0.89},{"w":3,"s":"r","t":153,"v":0.67,"e":0.49},{"w":3,"s":"r","t":154,"v":3,"e":1.04},{"w":3,"s":"r","t":155,"v":1.2,"e":0.66},{"w":3,"s":"r","t":156,"v":0.67,"e":0.49},{"w":3,"s":"r","t":157,"v":2,"e":0.85},{"w":3,"s":"r","t":158,"v":0.67,"e":0.49},
{"w":3,"s":"n","t":20,"v":430,"e":12.4},{"w":3,"s":"n","t":20.5,"v":400,"e":12},{"w":3,"s":"n","t":21,"v":370,"e":11.5},{"w":3,"s":"n","t":21.5,"v":330,"e":10.9},{"w":3,"s":"n","t":22.1,"v":286,"e":10.1},{"w":3,"s":"n","t":22.6,"v":269,"e":9.8},{"w":3,"s":"n","t":23,"v":219,"e":8.9},{"w":3,"s":"n","t":23.5,"v":172,"e":7.9},{"w":3,"s":"n","t":24,"v":142,"e":7.1},{"w":3,"s":"n","t":24.4,"v":102,"e":6.1},{"w":3,"s":"n","t":24.9,"v":72,"e":5.1},{"w":3,"s":"n","t":25.4,"v":37,"e":3.6},{"w":3,"s":"n","t":25.9,"v":37,"e":3.6},{"w":3,"s":"n","t":26.4,"v":20,"e":2.7},{"w":3,"s":"n","t":26.9,"v":12.3,"e":2.1},{"w":3,"s":"n","t":27.4,"v":8.4,"e":1.7},{"w":3,"s":"n","t":28.1,"v":7.5,"e":1.6},{"w":3,"s":"n","t":28.8,"v":6.6,"e":1.5},{"w":3,"s":"n","t":29.5,"v":5.1,"e":1.4},{"w":3,"s":"n","t":30.2,"v":8.4,"e":1.7},{"w":3,"s":"n","t":30.9,"v":10,"e":1.9},{"w":3,"s":"n","t":31.7,"v":12.3,"e":2.1},{"w":3,"s":"n","t":32.4,"v":13.5,"e":2.2},{"w":3,"s":"n","t":33.1,"v":18.3,"e":2.6},{"w":3,"s":"n","t":33.8,"v":25,"e":3},{"w":3,"s":"n","t":34.5,"v":35,"e":3.5},{"w":3,"s":"n","t":35.2,"v":42,"e":3.9},{"w":3,"s":"n","t":35.9,"v":45,"e":4},{"w":3,"s":"n","t":36.6,"v":40,"e":3.8},{"w":3,"s":"n","t":37.3,"v":45,"e":4},{"w":3,"s":"n","t":38,"v":45,"e":4},{"w":3,"s":"n","t":38.7,"v":40,"e":3.8},{"w":3,"s":"n","t":39.4,"v":27,"e":3.1},{"w":3,"s":"n","t":40.1,"v":22.5,"e":2.8},{"w":3,"s":"n","t":40.8,"v":27,"e":3.1},{"w":3,"s":"n","t":41.5,"v":30,"e":3.3},{"w":3,"s":"n","t":42.2,"v":37,"e":3.6},{"w":3,"s":"n","t":42.8,"v":45,"e":4},{"w":3,"s":"n","t":43.5,"v":70,"e":5},{"w":3,"s":"n","t":44.2,"v":92,"e":5.8},{"w":3,"s":"n","t":44.7,"v":107,"e":6.2},{"w":3,"s":"n","t":45.4,"v":110,"e":6.3},{"w":3,"s":"n","t":45.9,"v":142,"e":7.1},{"w":3,"s":"n","t":46.5,"v":154,"e":7.4},{"w":3,"s":"n","t":47,"v":206,"e":8.6},{"w":3,"s":"n","t":47.5,"v":202,"e":8.5},{"w":3,"s":"n","t":48,"v":209,"e":8.7},{"w":3,"s":"n","t":48.7,"v":231,"e":9.1},{"w":3,"s":"n","t":49.3,"v":204,"e":8.6},{"w":3,"s":"n","t":49.9,"v":199,"e":8.5},{"w":3,"s":"n","t":50.4,"v":174,"e":7.9},{"w":3,"s":"n","t":50.9,"v":177,"e":8},{"w":3,"s":"n","t":51.4,"v":164,"e":7.7},{"w":3,"s":"n","t":52.1,"v":139,"e":7.1},{"w":3,"s":"n","t":52.8,"v":129,"e":6.8},{"w":3,"s":"n","t":53.5,"v":117,"e":6.5},{"w":3,"s":"n","t":54.3,"v":102,"e":6.1},{"w":3,"s":"n","t":55,"v":90,"e":5.7},{"w":3,"s":"n","t":55.7,"v":62,"e":4.7},{"w":3,"s":"n","t":56.4,"v":55,"e":4.4},{"w":3,"s":"n","t":57.1,"v":45,"e":4},{"w":3,"s":"n","t":58.1,"v":35,"e":3.5},{"w":3,"s":"n","t":59.2,"v":30,"e":3.3},{"w":3,"s":"n","t":60.3,"v":22.5,"e":2.8},{"w":3,"s":"n","t":61.3,"v":20,"e":2.7},{"w":3,"s":"n","t":62.4,"v":20,"e":2.7},{"w":3,"s":"n","t":63.4,"v":27,"e":3.1},{"w":3,"s":"n","t":64.5,"v":20,"e":2.7},{"w":3,"s":"n","t":65.6,"v":15,"e":2.3},{"w":3,"s":"n","t":66.6,"v":13.5,"e":2.2},{"w":3,"s":"n","t":67.7,"v":12.3,"e":2.1},{"w":3,"s":"n","t":69.1,"v":8.4,"e":1.7},{"w":3,"s":"n","t":69.8,"v":7.5,"e":1.6},
{"w":3,"s":"n","t":70,"v":3,"e":1.04},{"w":3,"s":"n","t":71,"v":4.7,"e":1.3},{"w":3,"s":"n","t":72,"v":3,"e":1.04},{"w":3,"s":"n","t":73,"v":1.5,"e":0.73},{"w":3,"s":"n","t":74,"v":1.1,"e":0.63},{"w":3,"s":"n","t":75,"v":2,"e":0.85},{"w":3,"s":"n","t":76,"v":3.5,"e":1.12},{"w":3,"s":"n","t":77,"v":0.9,"e":0.57},{"w":3,"s":"n","t":78,"v":4.5,"e":1.27},{"w":3,"s":"n","t":79,"v":7,"e":1.59},{"w":3,"s":"n","t":80,"v":9.3,"e":1.83},{"w":3,"s":"n","t":81,"v":10,"e":1.9},{"w":3,"s":"n","t":82,"v":11.7,"e":2.05},{"w":3,"s":"n","t":83,"v":13,"e":2.16},{"w":3,"s":"n","t":84,"v":12,"e":2.08},{"w":3,"s":"n","t":85,"v":10,"e":1.9},{"w":3,"s":"n","t":86,"v":8,"e":1.7},{"w":3,"s":"n","t":87,"v":6.6,"e":1.54},{"w":3,"s":"n","t":88,"v":1.7,"e":0.78},{"w":3,"s":"n","t":89,"v":4.2,"e":1.23},{"w":3,"s":"n","t":90,"v":3.3,"e":1.09},{"w":3,"s":"n","t":91,"v":6,"e":1.47},{"w":3,"s":"n","t":92,"v":9,"e":1.8},{"w":3,"s":"n","t":93,"v":13,"e":2.16},{"w":3,"s":"n","t":94,"v":18.5,"e":2.58},{"w":3,"s":"n","t":95,"v":15,"e":2.32},{"w":3,"s":"n","t":96,"v":16.5,"e":2.44},{"w":3,"s":"n","t":97,"v":11,"e":1.99},{"w":3,"s":"n","t":98,"v":6.6,"e":1.54},{"w":3,"s":"n","t":99,"v":4.5,"e":1.27},{"w":3,"s":"n","t":100,"v":2.6,"e":0.97},{"w":3,"s":"n","t":101,"v":5,"e":1.34},{"w":3,"s":"n","t":102,"v":3.3,"e":1.09},{"w":3,"s":"n","t":103,"v":5,"e":1.34},{"w":3,"s":"n","t":104,"v":8,"e":1.7},{"w":3,"s":"n","t":105,"v":10,"e":1.9},{"w":3,"s":"n","t":106,"v":13,"e":2.16},{"w":3,"s":"n","t":107,"v":11,"e":1.99},{"w":3,"s":"n","t":108,"v":12,"e":2.08},{"w":3,"s":"n","t":109,"v":10,"e":1.9},{"w":3,"s":"n","t":110,"v":7.4,"e":1.63},{"w":3,"s":"n","t":111,"v":5.5,"e":1.41},{"w":3,"s":"n","t":112,"v":3.7,"e":1.15},{"w":3,"s":"n","t":113,"v":6,"e":1.47},{"w":3,"s":"n","t":114,"v":4.2,"e":1.23},{"w":3,"s":"n","t":115,"v":1.5,"e":0.73},{"w":3,"s":"n","t":116,"v":0.6,"e":0.46},{"w":3,"s":"n","t":117,"v":3.7,"e":1.15},{"w":3,"s":"n","t":118,"v":4.5,"e":1.27},{"w":3,"s":"n","t":119,"v":3.3,"e":1.09},{"w":3,"s":"n","t":120,"v":4.2,"e":1.23},{"w":3,"s":"n","t":121,"v":2.5,"e":0.95},{"w":3,"s":"n","t":122,"v":3.5,"e":1.12},{"w":3,"s":"n","t":123,"v":6,"e":1.47},{"w":3,"s":"n","t":124,"v":10,"e":1.9},{"w":3,"s":"n","t":125,"v":13,"e":2.16},{"w":3,"s":"n","t":126,"v":16.5,"e":2.44},{"w":3,"s":"n","t":127,"v":12,"e":2.08},{"w":3,"s":"n","t":128,"v":14,"e":2.24},{"w":3,"s":"n","t":129,"v":9.3,"e":1.83},{"w":3,"s":"n","t":130,"v":12,"e":2.08},{"w":3,"s":"n","t":131,"v":7,"e":1.59},{"w":3,"s":"n","t":132,"v":3.5,"e":1.12},{"w":3,"s":"n","t":133,"v":1.5,"e":0.73},{"w":3,"s":"n","t":134,"v":0.8,"e":0.54},{"w":3,"s":"n","t":135,"v":3.3,"e":1.09},{"w":3,"s":"n","t":136,"v":1.5,"e":0.73},{"w":3,"s":"n","t":137,"v":4,"e":1.2},{"w":3,"s":"n","t":138,"v":5.3,"e":1.38},{"w":3,"s":"n","t":139,"v":3.3,"e":1.09},{"w":3,"s":"n","t":140,"v":4.5,"e":1.27},{"w":3,"s":"n","t":141,"v":3.3,"e":1.09},{"w":3,"s":"n","t":142,"v":0.8,"e":0.54},{"w":3,"s":"n","t":143,"v":2.6,"e":0.97},{"w":3,"s":"n","t":144,"v":4.2,"e":1.23},{"w":3,"s":"n","t":145,"v":1.5,"e":0.73},{"w":3,"s":"n","t":146,"v":0.8,"e":0.54},{"w":3,"s":"n","t":147,"v":2.4,"e":0.93},{"w":3,"s":"n","t":148,"v":3.5,"e":1.12},{"w":3,"s":"n","t":149,"v":0.8,"e":0.54},{"w":3,"s":"n","t":150,"v":1.5,"e":0.73},{"w":3,"s":"n","t":151,"v":4.2,"e":1.23},{"w":3,"s":"n","t":152,"v":0.8,"e":0.54},{"w":3,"s":"n","t":153,"v":2.6,"e":0.97},{"w":3,"s":"n","t":154,"v":4.2,"e":1.23},{"w":3,"s":"n","t":155,"v":3,"e":1.04},{"w":3,"s":"n","t":156,"v":0.8,"e":0.54},{"w":3,"s":"n","t":157,"v":1.5,"e":0.73},{"w":3,"s":"n","t":158,"v":3.5,"e":1.12}
]},
"columns":2,
"spacing":{"row":0,"column":5},
"align":"each",
"bounds":"flush",
"resolve":{"scale":{"color":"independent","shape":"independent"},"legend":{"color":"independent","shape":"independent"}},
"concat":[
{"width":346,"height":202,"resolve":{"axis":{"x":"independent","y":"independent"}},"layer":[
 {"data":{"name":"d"},"transform":[{"filter":"datum.w == 1"}],"mark":{"type":"errorbar","thickness":1.1,"clip":true},
  "encoding":{"x":{"field":"t","type":"quantitative","scale":{"domain":[20,160],"nice":false,"zero":false},"axis":{"orient":"bottom","values":[20,40,60,80,100,120,140,160],"tickSize":-6,"labels":false,"title":null}},
   "y":{"field":"v","type":"quantitative","scale":{"type":"log","domain":[0.5,500],"nice":false},"axis":{"orient":"left","values":[0.6,0.7,0.8,0.9,1,2,3,4,5,6,7,8,9,10,20,30,40,50,60,70,80,90,100,200,300,400],"tickSize":{"condition":{"test":"indexof([1,10,100],datum.value) >= 0","value":-8},"value":-4},"labels":false,"title":null}},
   "yError":{"field":"e"},
   "color":{"field":"s","type":"nominal","scale":{"domain":["r","n"],"range":["#000000","#ee3322"]},"legend":null}}},
 {"data":{"name":"d"},"transform":[{"filter":"datum.w == 1"}],"mark":{"type":"point","filled":true,"opacity":1,"size":22,"clip":true},
  "encoding":{"x":{"field":"t","type":"quantitative","axis":{"orient":"top","values":[20,40,60,80,100,120,140,160],"tickSize":-6,"labels":false,"title":null}},
   "y":{"field":"v","type":"quantitative","axis":{"orient":"right","values":[0.6,0.7,0.8,0.9,1,2,3,4,5,6,7,8,9,10,20,30,40,50,60,70,80,90,100,200,300,400],"tickSize":{"condition":{"test":"indexof([1,10,100],datum.value) >= 0","value":-8},"value":-4},"labels":false,"title":null}},
   "color":{"field":"s","type":"nominal","scale":{"domain":["r","n"],"range":["#000000","#ee3322"]},"legend":null},
   "shape":{"field":"s","type":"nominal","scale":{"domain":["r","n"],"range":["square","circle"]},"legend":null}}},
 {"data":{"values":[{}]},"mark":{"type":"point","shape":"square","filled":true,"opacity":1,"color":"#000000","size":49},"encoding":{"x":{"datum":78.6,"type":"quantitative","axis":null},"y":{"datum":170,"type":"quantitative","axis":null}}},
 {"data":{"values":[{}]},"mark":{"type":"point","shape":"circle","filled":true,"opacity":1,"color":"#ee3322","size":55},"encoding":{"x":{"datum":78.6,"type":"quantitative","axis":null},"y":{"datum":86,"type":"quantitative","axis":null}}},
 {"data":{"values":[{}]},"mark":{"type":"text","align":"left","baseline":"middle","font":"DejaVu Serif","fontWeight":"bold","fontSize":17,"color":"#000000"},"encoding":{"x":{"datum":86.3,"type":"quantitative","axis":null},"y":{"datum":173,"type":"quantitative","axis":null},"text":{"value":"rotated"}}},
 {"data":{"values":[{}]},"mark":{"type":"text","align":"left","baseline":"middle","font":"DejaVu Serif","fontWeight":"bold","fontSize":17,"color":"#ee3322"},"encoding":{"x":{"datum":86.3,"type":"quantitative","axis":null},"y":{"datum":87.5,"type":"quantitative","axis":null},"text":{"value":"non-rotated"}}},
 {"data":{"values":[{}]},"mark":{"type":"text","align":"right","baseline":"middle","font":"Liberation Serif","fontSize":22,"color":"#111"},"encoding":{"x":{"datum":147.5,"type":"quantitative","axis":null},"y":{"datum":173,"type":"quantitative","axis":null},"text":{"value":"(a)"}}},
 {"data":{"values":[{}]},"mark":{"type":"text","align":"left","baseline":"middle","font":"Liberation Serif","fontSize":22,"color":"#111"},"encoding":{"x":{"datum":24.8,"type":"quantitative","axis":null},"y":{"datum":1,"type":"quantitative","axis":null},"text":{"value":"1.–3. min"}}}
]},
{"width":236,"height":202,"resolve":{"axis":{"x":"independent","y":"independent"}},"layer":[
 {"data":{"name":"d"},"transform":[{"filter":"datum.w == 1 && datum.t <= 70"}],"mark":{"type":"errorbar","thickness":1.1,"clip":true},
  "encoding":{"x":{"field":"t","type":"quantitative","scale":{"domain":[20,70],"nice":false,"zero":false},"axis":{"orient":"bottom","values":[20,30,40,50,60,70],"tickSize":-6,"labels":false,"title":null}},
   "y":{"field":"v","type":"quantitative","scale":{"domain":[0,285],"nice":false,"zero":false},"axis":{"orient":"left","values":[47.5,95,142.5,190,237.5],"tickSize":-6,"labels":false,"title":null}},
   "yError":{"field":"e"},
   "color":{"field":"s","type":"nominal","scale":{"domain":["r","n"],"range":["#000000","#ee3322"]},"legend":null}}},
 {"data":{"name":"d"},"transform":[{"filter":"datum.w == 1 && datum.t <= 70"}],"mark":{"type":"point","filled":true,"opacity":1,"size":22,"clip":true},
  "encoding":{"x":{"field":"t","type":"quantitative","axis":{"orient":"top","values":[20,30,40,50,60,70],"tickSize":-6,"labels":false,"title":null}},
   "y":{"field":"v","type":"quantitative","axis":{"orient":"right","values":[47.5,95,142.5,190,237.5],"tickSize":-6,"labels":false,"title":null}},
   "color":{"field":"s","type":"nominal","scale":{"domain":["r","n"],"range":["#000000","#ee3322"]},"legend":null},
   "shape":{"field":"s","type":"nominal","scale":{"domain":["r","n"],"range":["square","circle"]},"legend":null}}},
 {"data":{"values":[{}]},"mark":{"type":"text","align":"right","baseline":"middle","font":"Liberation Serif","fontSize":22,"color":"#111"},"encoding":{"x":{"datum":62.8,"type":"quantitative","axis":null},"y":{"datum":241,"type":"quantitative","axis":null},"text":{"value":"(b)"}}}
]},
{"width":346,"height":202,"resolve":{"axis":{"x":"independent","y":"independent"}},"layer":[
 {"data":{"name":"d"},"transform":[{"filter":"datum.w == 2"}],"mark":{"type":"errorbar","thickness":1.1,"clip":true},
  "encoding":{"x":{"field":"t","type":"quantitative","scale":{"domain":[20,160],"nice":false,"zero":false},"axis":{"orient":"bottom","values":[20,40,60,80,100,120,140,160],"tickSize":-6,"labels":false,"title":null}},
   "y":{"field":"v","type":"quantitative","scale":{"type":"log","domain":[0.5,500],"nice":false},"axis":{"orient":"left","values":[0.6,0.7,0.8,0.9,1,2,3,4,5,6,7,8,9,10,20,30,40,50,60,70,80,90,100,200,300,400],"tickSize":{"condition":{"test":"indexof([1,10,100],datum.value) >= 0","value":-8},"value":-4},"labels":false,"title":"Relative Intensity","titleFont":"DejaVu Serif","titleFontWeight":"bold","titleFontSize":18,"titleColor":"#111","titlePadding":23}},
   "yError":{"field":"e"},
   "color":{"field":"s","type":"nominal","scale":{"domain":["r","n"],"range":["#000000","#ee3322"]},"legend":null}}},
 {"data":{"name":"d"},"transform":[{"filter":"datum.w == 2"}],"mark":{"type":"point","filled":true,"opacity":1,"size":22,"clip":true},
  "encoding":{"x":{"field":"t","type":"quantitative","axis":{"orient":"top","values":[20,40,60,80,100,120,140,160],"tickSize":-6,"labels":false,"title":null}},
   "y":{"field":"v","type":"quantitative","axis":{"orient":"right","values":[0.6,0.7,0.8,0.9,1,2,3,4,5,6,7,8,9,10,20,30,40,50,60,70,80,90,100,200,300,400],"tickSize":{"condition":{"test":"indexof([1,10,100],datum.value) >= 0","value":-8},"value":-4},"labels":false,"title":null}},
   "color":{"field":"s","type":"nominal","scale":{"domain":["r","n"],"range":["#000000","#ee3322"]},"legend":null},
   "shape":{"field":"s","type":"nominal","scale":{"domain":["r","n"],"range":["square","circle"]},"legend":null}}},
 {"data":{"values":[{}]},"mark":{"type":"point","shape":"square","filled":true,"opacity":1,"color":"#000000","size":49},"encoding":{"x":{"datum":78.6,"type":"quantitative","axis":null},"y":{"datum":170,"type":"quantitative","axis":null}}},
 {"data":{"values":[{}]},"mark":{"type":"point","shape":"circle","filled":true,"opacity":1,"color":"#ee3322","size":55},"encoding":{"x":{"datum":78.6,"type":"quantitative","axis":null},"y":{"datum":86,"type":"quantitative","axis":null}}},
 {"data":{"values":[{}]},"mark":{"type":"text","align":"left","baseline":"middle","font":"DejaVu Serif","fontWeight":"bold","fontSize":17,"color":"#000000"},"encoding":{"x":{"datum":86.3,"type":"quantitative","axis":null},"y":{"datum":173,"type":"quantitative","axis":null},"text":{"value":"rotated"}}},
 {"data":{"values":[{}]},"mark":{"type":"text","align":"left","baseline":"middle","font":"DejaVu Serif","fontWeight":"bold","fontSize":17,"color":"#ee3322"},"encoding":{"x":{"datum":86.3,"type":"quantitative","axis":null},"y":{"datum":87.5,"type":"quantitative","axis":null},"text":{"value":"non-rotated"}}},
 {"data":{"values":[{}]},"mark":{"type":"text","align":"right","baseline":"middle","font":"Liberation Serif","fontSize":22,"color":"#111"},"encoding":{"x":{"datum":147.5,"type":"quantitative","axis":null},"y":{"datum":173,"type":"quantitative","axis":null},"text":{"value":"(c)"}}},
 {"data":{"values":[{}]},"mark":{"type":"text","align":"left","baseline":"middle","font":"Liberation Serif","fontSize":22,"color":"#111"},"encoding":{"x":{"datum":24.8,"type":"quantitative","axis":null},"y":{"datum":1,"type":"quantitative","axis":null},"text":{"value":"7.–9. min"}}}
]},
{"width":236,"height":202,"resolve":{"axis":{"x":"independent","y":"independent"}},"layer":[
 {"data":{"name":"d"},"transform":[{"filter":"datum.w == 2 && datum.t <= 70"}],"mark":{"type":"errorbar","thickness":1.1,"clip":true},
  "encoding":{"x":{"field":"t","type":"quantitative","scale":{"domain":[20,70],"nice":false,"zero":false},"axis":{"orient":"bottom","values":[20,30,40,50,60,70],"tickSize":-6,"labels":false,"title":null}},
   "y":{"field":"v","type":"quantitative","scale":{"domain":[0,290],"nice":false,"zero":false},"axis":{"orient":"left","values":[48.33,96.67,145,193.33,241.67],"tickSize":-6,"labels":false,"title":null}},
   "yError":{"field":"e"},
   "color":{"field":"s","type":"nominal","scale":{"domain":["r","n"],"range":["#000000","#ee3322"]},"legend":null}}},
 {"data":{"name":"d"},"transform":[{"filter":"datum.w == 2 && datum.t <= 70"}],"mark":{"type":"point","filled":true,"opacity":1,"size":22,"clip":true},
  "encoding":{"x":{"field":"t","type":"quantitative","axis":{"orient":"top","values":[20,30,40,50,60,70],"tickSize":-6,"labels":false,"title":null}},
   "y":{"field":"v","type":"quantitative","axis":{"orient":"right","values":[48.33,96.67,145,193.33,241.67],"tickSize":-6,"labels":false,"title":null}},
   "color":{"field":"s","type":"nominal","scale":{"domain":["r","n"],"range":["#000000","#ee3322"]},"legend":null},
   "shape":{"field":"s","type":"nominal","scale":{"domain":["r","n"],"range":["square","circle"]},"legend":null}}},
 {"data":{"values":[{}]},"mark":{"type":"text","align":"right","baseline":"middle","font":"Liberation Serif","fontSize":22,"color":"#111"},"encoding":{"x":{"datum":62.8,"type":"quantitative","axis":null},"y":{"datum":244,"type":"quantitative","axis":null},"text":{"value":"(d)"}}}
]},
{"width":346,"height":202,"resolve":{"axis":{"x":"independent","y":"independent"}},"layer":[
 {"data":{"name":"d"},"transform":[{"filter":"datum.w == 3"}],"mark":{"type":"errorbar","thickness":1.1,"clip":true},
  "encoding":{"x":{"field":"t","type":"quantitative","scale":{"domain":[20,160],"nice":false,"zero":false},"axis":{"orient":"bottom","values":[20,40,60,80,100,120,140,160],"tickSize":-6,"labelExpr":"datum.value == 160 ? '' : datum.label","labelFont":"Liberation Serif","labelFontSize":19,"labelColor":"#111","labelPadding":9,"title":"Time (ns)","titleFont":"DejaVu Serif","titleFontWeight":"bold","titleFontSize":19,"titleColor":"#111","titlePadding":10}},
   "y":{"field":"v","type":"quantitative","scale":{"type":"log","domain":[0.5,500],"nice":false},"axis":{"orient":"left","values":[0.6,0.7,0.8,0.9,1,2,3,4,5,6,7,8,9,10,20,30,40,50,60,70,80,90,100,200,300,400],"tickSize":{"condition":{"test":"indexof([1,10,100],datum.value) >= 0","value":-8},"value":-4},"labels":false,"title":null}},
   "yError":{"field":"e"},
   "color":{"field":"s","type":"nominal","scale":{"domain":["r","n"],"range":["#000000","#ee3322"]},"legend":null}}},
 {"data":{"name":"d"},"transform":[{"filter":"datum.w == 3"}],"mark":{"type":"point","filled":true,"opacity":1,"size":22,"clip":true},
  "encoding":{"x":{"field":"t","type":"quantitative","axis":{"orient":"top","values":[20,40,60,80,100,120,140,160],"tickSize":-6,"labels":false,"title":null}},
   "y":{"field":"v","type":"quantitative","axis":{"orient":"right","values":[0.6,0.7,0.8,0.9,1,2,3,4,5,6,7,8,9,10,20,30,40,50,60,70,80,90,100,200,300,400],"tickSize":{"condition":{"test":"indexof([1,10,100],datum.value) >= 0","value":-8},"value":-4},"labels":false,"title":null}},
   "color":{"field":"s","type":"nominal","scale":{"domain":["r","n"],"range":["#000000","#ee3322"]},"legend":null},
   "shape":{"field":"s","type":"nominal","scale":{"domain":["r","n"],"range":["square","circle"]},"legend":null}}},
 {"data":{"values":[{}]},"mark":{"type":"point","shape":"square","filled":true,"opacity":1,"color":"#000000","size":49},"encoding":{"x":{"datum":78.6,"type":"quantitative","axis":null},"y":{"datum":170,"type":"quantitative","axis":null}}},
 {"data":{"values":[{}]},"mark":{"type":"point","shape":"circle","filled":true,"opacity":1,"color":"#ee3322","size":55},"encoding":{"x":{"datum":78.6,"type":"quantitative","axis":null},"y":{"datum":86,"type":"quantitative","axis":null}}},
 {"data":{"values":[{}]},"mark":{"type":"text","align":"left","baseline":"middle","font":"DejaVu Serif","fontWeight":"bold","fontSize":17,"color":"#000000"},"encoding":{"x":{"datum":86.3,"type":"quantitative","axis":null},"y":{"datum":173,"type":"quantitative","axis":null},"text":{"value":"rotated"}}},
 {"data":{"values":[{}]},"mark":{"type":"text","align":"left","baseline":"middle","font":"DejaVu Serif","fontWeight":"bold","fontSize":17,"color":"#ee3322"},"encoding":{"x":{"datum":86.3,"type":"quantitative","axis":null},"y":{"datum":87.5,"type":"quantitative","axis":null},"text":{"value":"non-rotated"}}},
 {"data":{"values":[{}]},"mark":{"type":"text","align":"right","baseline":"middle","font":"Liberation Serif","fontSize":22,"color":"#111"},"encoding":{"x":{"datum":147.5,"type":"quantitative","axis":null},"y":{"datum":173,"type":"quantitative","axis":null},"text":{"value":"(e)"}}},
 {"data":{"values":[{}]},"mark":{"type":"text","align":"left","baseline":"middle","font":"Liberation Serif","fontSize":22,"color":"#111"},"encoding":{"x":{"datum":22.8,"type":"quantitative","axis":null},"y":{"datum":1,"type":"quantitative","axis":null},"text":{"value":"28.–30. min"}}}
]},
{"width":236,"height":202,"resolve":{"axis":{"x":"independent","y":"independent"}},"layer":[
 {"data":{"name":"d"},"transform":[{"filter":"datum.w == 3 && datum.t <= 70"}],"mark":{"type":"errorbar","thickness":1.1,"clip":true},
  "encoding":{"x":{"field":"t","type":"quantitative","scale":{"domain":[20,70],"nice":false,"zero":false},"axis":{"orient":"bottom","values":[20,30,40,50,60,70],"tickSize":-6,"labelFont":"Liberation Serif","labelFontSize":19,"labelColor":"#111","labelPadding":9,"title":"Time (ns)","titleFont":"DejaVu Serif","titleFontWeight":"bold","titleFontSize":19,"titleColor":"#111","titlePadding":10}},
   "y":{"field":"v","type":"quantitative","scale":{"domain":[0,300],"nice":false,"zero":false},"axis":{"orient":"left","values":[50,100,150,200,250],"tickSize":-6,"labels":false,"title":null}},
   "yError":{"field":"e"},
   "color":{"field":"s","type":"nominal","scale":{"domain":["r","n"],"range":["#000000","#ee3322"]},"legend":null}}},
 {"data":{"name":"d"},"transform":[{"filter":"datum.w == 3 && datum.t <= 70"}],"mark":{"type":"point","filled":true,"opacity":1,"size":22,"clip":true},
  "encoding":{"x":{"field":"t","type":"quantitative","axis":{"orient":"top","values":[20,30,40,50,60,70],"tickSize":-6,"labels":false,"title":null}},
   "y":{"field":"v","type":"quantitative","axis":{"orient":"right","values":[50,100,150,200,250],"tickSize":-6,"labels":false,"title":null}},
   "color":{"field":"s","type":"nominal","scale":{"domain":["r","n"],"range":["#000000","#ee3322"]},"legend":null},
   "shape":{"field":"s","type":"nominal","scale":{"domain":["r","n"],"range":["square","circle"]},"legend":null}}},
 {"data":{"values":[{}]},"mark":{"type":"text","align":"right","baseline":"middle","font":"Liberation Serif","fontSize":22,"color":"#111"},"encoding":{"x":{"datum":62.8,"type":"quantitative","axis":null},"y":{"datum":254,"type":"quantitative","axis":null},"text":{"value":"(f)"}}}
]}
]
}
